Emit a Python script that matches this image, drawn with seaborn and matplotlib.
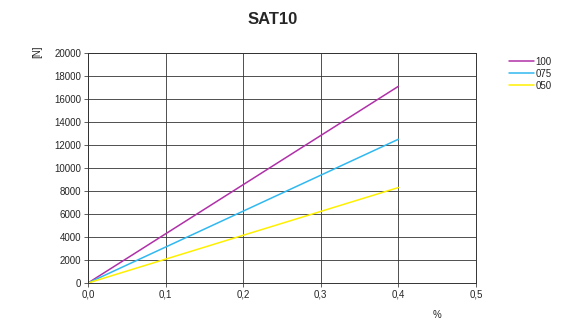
import numpy as np
import pandas as pd
import matplotlib
matplotlib.use("Agg")
import matplotlib.pyplot as plt
import seaborn as sns

# data
strain = [0.0, 0.4]
series = ["100", "075", "050"]
force_100 = [0, 17100]
force_075 = [0, 12500]
force_050 = [0, 8300]
colours = ["#B030A8", "#30B8F0", "#FFF000"]

x_ticks = [0.0, 0.1, 0.2, 0.3, 0.4, 0.5]
y_ticks = list(range(0, 20001, 2000))

df = pd.DataFrame({
    "strain": strain * 3,
    "force": force_100 + force_075 + force_050,
    "series": [s for s in series for _ in strain],
})

sns.set_style("white")
plt.rcParams["font.family"] = ["Liberation Sans", "DejaVu Sans"]

fig = plt.figure(figsize=(5.73, 3.26), dpi=100)
ax = fig.add_axes([0.1536, 0.1319, 0.677, 0.7055])

sns.lineplot(data=df, x="strain", y="force", hue="series",
             hue_order=series, palette=colours, linewidth=1.1, ax=ax,
             legend=True)

ax.set_xlim(0, 0.5)
ax.set_ylim(0, 20000)
ax.set_xticks(x_ticks)
ax.set_yticks(y_ticks)
ax.set_xticklabels([f"{t:.1f}".replace(".", ",") for t in x_ticks], fontsize=7)
ax.set_yticklabels([str(t) for t in y_ticks], fontsize=7)
ax.tick_params(axis="both", length=3, width=0.6, color="#444444", pad=2,
               direction="out", left=True, bottom=True)
ax.grid(True, color="#333333", linewidth=0.6)
ax.set_axisbelow(True)
for sp in ax.spines.values():
    sp.set_color("#333333")
    sp.set_linewidth(0.7)

ax.set_xlabel("")
ax.set_ylabel("")
fig.text(0.763, 0.018, "%", fontsize=7, ha="center", va="bottom")
fig.text(0.065, 0.84, "[N]", fontsize=7, rotation=90, ha="center", va="center")
fig.text(0.475, 0.94, "SAT10", fontsize=12, fontweight="bold",
         ha="center", va="center")

leg = ax.legend(loc="upper left", bbox_to_anchor=(1.075, 1.0), frameon=False,
                fontsize=7, handlelength=2.6, handletextpad=0.1,
                labelspacing=0.2, borderaxespad=0)
for line in leg.get_lines():
    line.set_linewidth(1.1)

fig.savefig("out.png", dpi=100)
